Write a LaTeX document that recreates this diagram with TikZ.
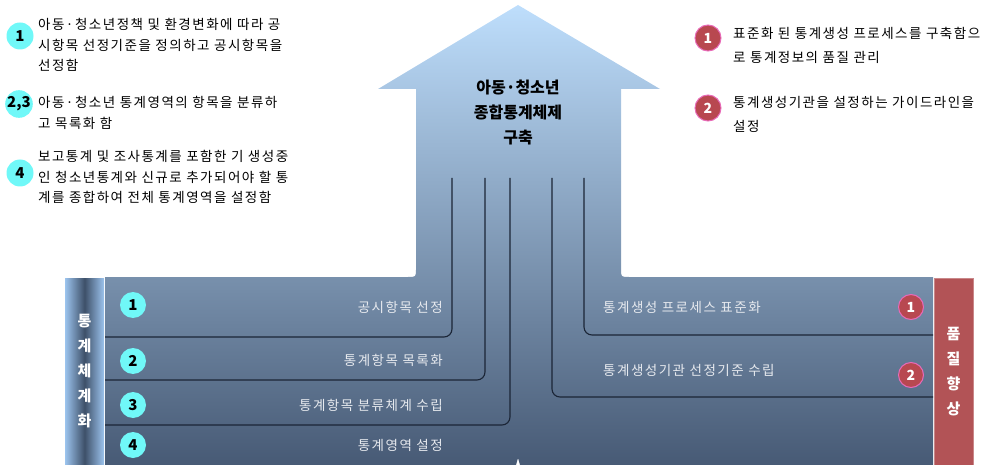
\documentclass[tikz,border=0pt]{standalone}
\usepackage{fontspec}
\setmainfont{Noto Sans CJK KR}
\newfontfamily\widekr[LetterSpace=11]{Noto Sans CJK KR}
\usetikzlibrary{positioning}
\definecolor{skytop}{HTML}{BEDEFC}
\definecolor{slatebot}{HTML}{475A75}
\definecolor{aquafill}{HTML}{70F8F8}
\definecolor{rosefill}{HTML}{B84850}
\definecolor{rosering}{HTML}{E86AB8}
\definecolor{qualred}{HTML}{B25356}
\definecolor{planblue}{HTML}{9CC4EE}
\definecolor{plandark}{HTML}{3E5069}
\definecolor{bartext}{HTML}{E6E9EE}
\definecolor{stemline}{HTML}{1B2536}

\begin{document}
\begin{tikzpicture}[x=1pt, y=-1pt,
  num/.style={circle, fill=aquafill, inner sep=0pt, minimum size=27pt, font=\bfseries\fontsize{15}{15}\selectfont},
  rnum/.style={circle, fill=rosefill, draw=rosering, line width=1pt, text=white, inner sep=0pt, minimum size=25pt, font=\bfseries\fontsize{14}{14}\selectfont},
  note/.style={anchor=west, align=left, inner sep=0pt, font=\widekr\fontsize{13.5}{20.5}\selectfont},
  rnote/.style={note, font=\widekr\fontsize{13.5}{24}\selectfont},
  bartxt/.style={text=bartext, inner sep=0pt, font=\widekr\fontsize{13.5}{15}\selectfont},
  title/.style={align=center, font=\bfseries\fontsize{16}{25}\selectfont},
  side/.style={minimum width=39pt, minimum height=187pt, inner sep=0pt, align=center, text=white, font=\bfseries\fontsize{15}{25}\selectfont},
  stem/.style={draw=stemline, line width=1.1pt, rounded corners=8pt}
]
\useasboundingbox (0,0) rectangle (993,465);

% arrow and base bar
\shade[top color=skytop, bottom color=slatebot]
  (518,5) -- (660,89) -- (621,89) -- (621,269) .. controls (621,277) .. (629,277)
  -- (933,277) -- (933,465) -- (520,465) -- (518,458) -- (516,465)
  -- (105,465) -- (105,277) -- (408,277) .. controls (416,277) .. (416,269)
  -- (416,89) -- (378,89) -- cycle;

\node[title] (goal) at (518,112) {아동·청소년\\종합통계체제\\구축};

% side labels
\node[side, shading=axis, left color=planblue, right color=planblue, middle color=plandark] (plan) at (84.5,371.5) {통\\계\\체\\계\\화};
\node[side, fill=qualred, draw=qualred!70!white] (quality) at (953.5,371.5) {품\\질\\향\\상};

% stems
\coordinate (s1) at (452,178); \coordinate (e1) at (105,337);
\coordinate (s2) at (485,178); \coordinate (e2) at (105,380);
\coordinate (s3) at (510,178); \coordinate (e3) at (105,425);
\coordinate (s4) at (552,178); \coordinate (e4) at (933,397);
\coordinate (s5) at (584,178); \coordinate (e5) at (933,335);
\foreach \i in {1,...,5} {\draw[stem] (s\i) |- (e\i);}

% left steps
\node[num, minimum size=26pt] (b1) at (133,305) {1};
\node[num, minimum size=26pt] (b2) at (133,361) {2};
\node[num, minimum size=26pt] (b3) at (133,405) {3};
\node[num, minimum size=26pt] (b4) at (133,445) {4};
\node[bartxt, anchor=east] (t1) at (443,307) {공시항목 선정};
\node[bartxt, anchor=east] (t2) at (443,360) {통계항목 목록화};
\node[bartxt, anchor=east] (t3) at (443,405) {통계항목 분류체계 수립};
\node[bartxt, anchor=east] (t4) at (443,445) {통계영역 설정};

% right steps
\node[rnum] (q1) at (911,307) {1};
\node[rnum] (q2) at (911,375) {2};
\node[bartxt, anchor=west] (u1) at (603,307) {통계생성 프로세스 표준화};
\node[bartxt, anchor=west] (u2) at (603,370) {통계생성기관 선정기준 수립};

% notes, left
\node[num] (n1) at (20,36) {1};
\node[num] (n23) at (19,104) {2,3};
\node[num] (n4) at (20,173) {4};
\node[note] (d1) at (38,45) {아동·청소년정책 및 환경변화에 따라 공\\시항목 선정기준을 정의하고 공시항목을\\선정함};
\node[note] (d23) at (38,113) {아동·청소년 통계영역의 항목을 분류하\\고 목록화 함};
\node[note] (d4) at (38,177) {보고통계 및 조사통계를 포함한 기 생성중\\인 청소년통계와 신규로 추가되어야 할 통\\계를 종합하여 전체 통계영역을 설정함};

% notes, right
\node[rnum, minimum size=26pt] (m1) at (708,38) {1};
\node[rnum, minimum size=26pt] (m2) at (708,108) {2};
\node[rnote] (f1) at (733,45) {표준화 된 통계생성 프로세스를 구축함으\\로 통계정보의 품질 관리};
\node[rnote] (f2) at (733,114) {통계생성기관을 설정하는 가이드라인을\\설정};
\end{tikzpicture}
\end{document}
